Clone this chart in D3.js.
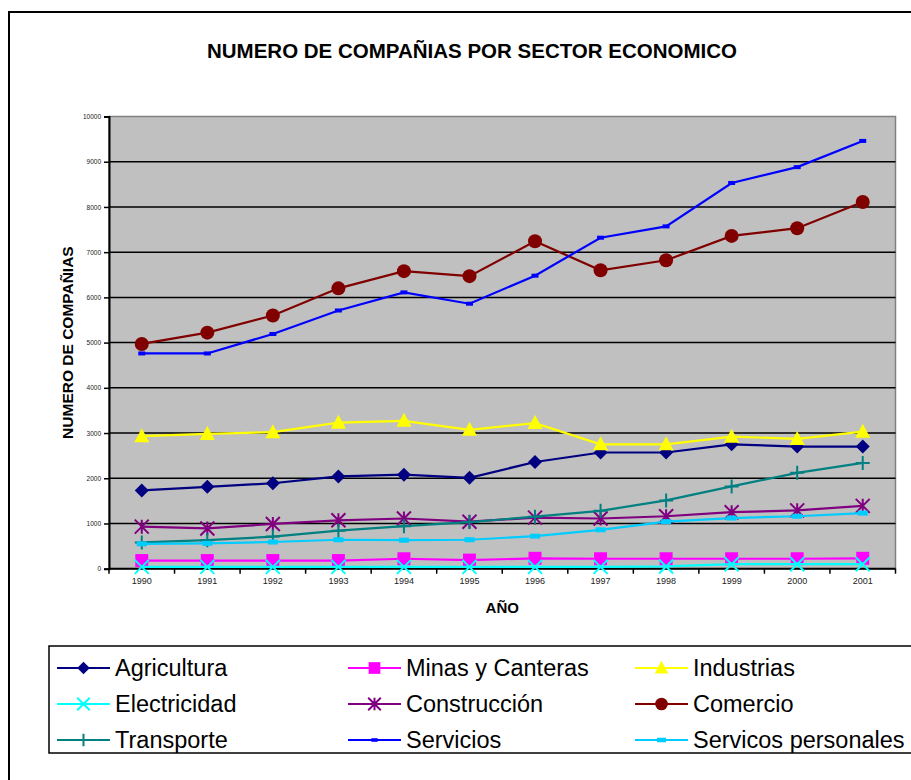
<!DOCTYPE html>
<html>
<head>
<meta charset="utf-8">
<script src="https://cdn.jsdelivr.net/npm/d3@7"></script>
<style>
  body { margin: 0; background: #fff; }
  svg text { font-family: Arial, "Liberation Sans", sans-serif; }
</style>
</head>
<body>
<svg id="chart" width="911" height="780"></svg>
<script>
// data
const years = ["1990","1991","1992","1993","1994","1995","1996","1997","1998","1999","2000","2001"];
const yTicks = [0,1000,2000,3000,4000,5000,6000,7000,8000,9000,10000];

const agricultura = [1730,1810,1890,2040,2080,2010,2360,2570,2570,2750,2700,2700];
const minas       = [180,180,180,180,220,190,230,220,220,220,220,230];
const industrias  = [2930,2980,3020,3230,3270,3070,3220,2750,2750,2920,2870,3030];
const electricidad= [40,40,40,40,40,40,40,40,50,100,100,100];
const construccion= [930,890,990,1070,1110,1040,1130,1110,1160,1250,1290,1390];
const comercio    = [4970,5220,5600,6200,6580,6470,7240,6600,6820,7360,7530,8110];
const transporte  = [580,630,710,840,940,1030,1150,1280,1510,1820,2120,2340];
const servicios   = [4760,4760,5190,5710,6110,5860,6480,7320,7570,8530,8880,9460];
const personales  = [550,560,590,640,630,640,720,860,1040,1120,1160,1230];

const seriesNames = ["Agricultura","Minas y Canteras","Industrias","Electricidad","Construcción","Comercio","Transporte","Servicios","Servicos personales"];
const seriesValues = [agricultura, minas, industrias, electricidad, construccion, comercio, transporte, servicios, personales];
const seriesColors = ["#000080","#FF00FF","#FFFF00","#00FFFF","#800080","#800000","#008080","#0000FF","#00CCFF"];
const seriesMarkers = ["diamond","square","triangle","x","star","circle","plus","shortdash","dash"];

const svg = d3.select("#chart");
const plot = {left: 109, top: 116.5, right: 895.5, bottom: 568.7};

// outer chart border
svg.append("rect").attr("x", 9).attr("y", 12).attr("width", 930).attr("height", 800)
  .attr("fill", "#fff").attr("stroke", "#000").attr("stroke-width", 2);

svg.append("text").attr("x", 472).attr("y", 58).attr("text-anchor", "middle")
  .attr("font-size", 20.5).attr("font-weight", "bold")
  .text("NUMERO DE COMPAÑIAS POR SECTOR ECONOMICO");

const x = d3.scaleBand().domain(years).range([plot.left, plot.right]).padding(0);
const y = d3.scaleLinear().domain([0, 10000]).range([plot.bottom, plot.top]);

// plot background
svg.append("rect").attr("x", plot.left).attr("y", plot.top)
  .attr("width", plot.right - plot.left).attr("height", plot.bottom - plot.top)
  .attr("fill", "#C0C0C0").attr("stroke", "#808080").attr("stroke-width", 1.5);

// gridlines
svg.append("g").selectAll("line").data(yTicks.slice(1, -1)).join("line")
  .attr("x1", plot.left).attr("x2", plot.right)
  .attr("y1", d => y(d)).attr("y2", d => y(d))
  .attr("stroke", "#000").attr("stroke-width", 1.5);

// y axis
const yAxis = svg.append("g").attr("transform", `translate(${plot.left},0)`)
  .call(d3.axisLeft(y).tickValues(yTicks).tickFormat(d3.format("d")).tickSize(5).tickPadding(3));
yAxis.select(".domain").attr("stroke", "#000").attr("stroke-width", 2);
yAxis.selectAll(".tick line").attr("stroke", "#000").attr("stroke-width", 1.5);
yAxis.selectAll(".tick text").attr("font-size", 6.5).attr("fill", "#222")
  .attr("font-family", "Arial, 'Liberation Sans', sans-serif");

// x axis: tick marks between categories
const xAxis = svg.append("g").attr("transform", `translate(0,${plot.bottom})`);
xAxis.append("line").attr("x1", plot.left).attr("x2", plot.right)
  .attr("stroke", "#000").attr("stroke-width", 2);
const edges = years.map(d => x(d)).concat([x(years[years.length - 1]) + x.bandwidth()]);
xAxis.selectAll("line.tk").data(edges).join("line").attr("class", "tk")
  .attr("x1", d => d).attr("x2", d => d).attr("y1", 0).attr("y2", 5)
  .attr("stroke", "#000").attr("stroke-width", 1.5);
xAxis.selectAll("text").data(years).join("text")
  .attr("x", d => x(d) + x.bandwidth() / 2).attr("y", 15.5)
  .attr("text-anchor", "middle").attr("font-size", 9).attr("fill", "#222")
  .text(d => d);

// axis titles
svg.append("text").attr("transform", `translate(73,${(plot.top + plot.bottom) / 2}) rotate(-90)`)
  .attr("text-anchor", "middle").attr("font-size", 15.5).attr("font-weight", "bold")
  .text("NUMERO DE COMPAÑIAS");
svg.append("text").attr("x", (plot.left + plot.right) / 2).attr("y", 613)
  .attr("text-anchor", "middle").attr("font-size", 15).attr("font-weight", "bold")
  .text("AÑO");

function drawMarker(g, type, color, s) {
  const h = 7 * s;
  if (type === "diamond") {
    g.append("path").attr("d", `M0,${-h}L${h},0L0,${h}L${-h},0Z`).attr("fill", color);
  } else if (type === "square") {
    g.append("rect").attr("x", -6.5 * s).attr("y", -6.5 * s).attr("width", 13 * s).attr("height", 13 * s)
      .attr("fill", color);
  } else if (type === "triangle") {
    g.append("path").attr("d", `M0,${-8 * s}L${7.5 * s},${6 * s}L${-7.5 * s},${6 * s}Z`).attr("fill", color);
  } else if (type === "x") {
    g.append("path").attr("d", `M${-h},${-h}L${h},${h}M${-h},${h}L${h},${-h}`)
      .attr("stroke", color).attr("stroke-width", 2);
  } else if (type === "star") {
    g.append("path").attr("d", `M${-h},${-h}L${h},${h}M${-h},${h}L${h},${-h}M0,${-h}L0,${h}`)
      .attr("stroke", color).attr("stroke-width", 2);
  } else if (type === "circle") {
    g.append("circle").attr("r", h).attr("fill", color);
  } else if (type === "plus") {
    g.append("path").attr("d", `M0,${-h}L0,${h}M${-h},0L${h},0`)
      .attr("stroke", color).attr("stroke-width", 2);
  } else if (type === "shortdash") {
    g.append("rect").attr("x", -3.5 * s).attr("y", -2 * s).attr("width", 7 * s).attr("height", 4 * s)
      .attr("fill", color);
  } else if (type === "dash") {
    g.append("rect").attr("x", -5 * s).attr("y", -2.5 * s).attr("width", 10 * s).attr("height", 5 * s)
      .attr("fill", color);
  }
}

const line = d3.line().x((d, i) => x(years[i]) + x.bandwidth() / 2).y(d => y(d));

seriesValues.forEach((vals, si) => {
  const g = svg.append("g");
  g.append("path").datum(vals).attr("d", line).attr("fill", "none")
    .attr("stroke", seriesColors[si]).attr("stroke-width", 2.2);
  vals.forEach((v, i) => {
    const m = g.append("g").attr("transform", `translate(${x(years[i]) + x.bandwidth() / 2},${y(v)})`);
    drawMarker(m, seriesMarkers[si], seriesColors[si], 1);
  });
});

// legend
const legend = svg.append("g");
legend.append("rect").attr("x", 49).attr("y", 646).attr("width", 900).attr("height", 107)
  .attr("fill", "#fff").attr("stroke", "#000").attr("stroke-width", 1.5);
const colX = [57, 348, 635];
const rowY = [668, 704, 740];
seriesNames.forEach((name, i) => {
  const cx = colX[i % 3], cy = rowY[Math.floor(i / 3)];
  const g = legend.append("g").attr("transform", `translate(${cx},${cy})`);
  g.append("line").attr("x1", 0).attr("x2", 53).attr("stroke", seriesColors[i]).attr("stroke-width", 2.2);
  drawMarker(g.append("g").attr("transform", "translate(26.5,0)"), seriesMarkers[i], seriesColors[i], 0.9);
  g.append("text").attr("x", 58).attr("y", 8).attr("font-size", 23.5).text(name);
});
</script>
</body>
</html>
